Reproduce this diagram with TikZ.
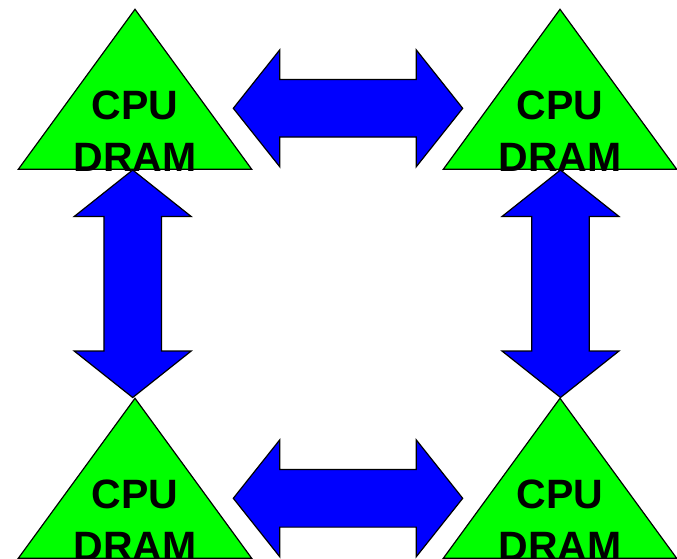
\documentclass[tikz,border=0pt]{standalone}
\usepackage{fontspec}
\setmainfont{Liberation Sans}
\usetikzlibrary{calc}

\definecolor{cpugreen}{RGB}{0,255,0}
\definecolor{linkblue}{RGB}{0,0,255}

% A processing unit: triangle with apex at (#2,#3), named #1
\newcommand\cpuunit[3]{%
  \coordinate (#1-top) at (#2,#3);
  \coordinate (#1-bl)  at ($(#1-top)+(-116.7,160)$);
  \coordinate (#1-br)  at ($(#1-top)+(116.7,160)$);
  \path[unitshape] (#1-top) -- (#1-br) -- (#1-bl) -- cycle;
}
% Labels of a unit
\newcommand\cpulabel[1]{%
  \node[lbl] (#1-cpu)  at ($(#1-top)+(0,110)$) {CPU};
  \node[lbl] (#1-dram) at ($(#1-top)+(0,162)$) {DRAM};
}
% Two-headed block arrow from tip #1 to tip #2
\newcommand\dbllink[2]{%
  \path[link] (#1)
    -- ($(#1)!46.5pt!(#2)!58.5pt!90:(#2)$)
    -- ($(#1)!46.5pt!(#2)!28.8pt!90:(#2)$)
    -- ($(#2)!46.5pt!(#1)!28.8pt!-90:(#1)$)
    -- ($(#2)!46.5pt!(#1)!58.5pt!-90:(#1)$)
    -- (#2)
    -- ($(#2)!46.5pt!(#1)!58.5pt!90:(#1)$)
    -- ($(#2)!46.5pt!(#1)!28.8pt!90:(#1)$)
    -- ($(#1)!46.5pt!(#2)!28.8pt!-90:(#2)$)
    -- ($(#1)!46.5pt!(#2)!58.5pt!-90:(#2)$)
    -- cycle;
}

\begin{document}
\begin{tikzpicture}[x=1pt,y=-1pt,
  unitshape/.style={draw=black,line width=1.2pt,fill=cpugreen,line join=miter},
  link/.style={draw=black,line width=1.2pt,fill=linkblue,line join=miter},
  lbl/.style={font=\fontsize{41}{48}\selectfont\bfseries,anchor=base,inner sep=0pt}]
\clip (0,0) rectangle (677,559);
\fill[white] (0,0) rectangle (677,559);

% the four units
\cpuunit{tl}{135}{9.3}
\cpuunit{tr}{560}{9.3}
\cpuunit{bl}{135}{398.3}
\cpuunit{br}{560}{398.3}

% arrow end points
\coordinate (top-w) at (233.3,108.3);
\coordinate (top-e) at (462.7,108.3);
\coordinate (bot-w) at (233.3,498.3);
\coordinate (bot-e) at (462.7,498.3);
\coordinate (lft-n) at (132.7,170);
\coordinate (lft-s) at (132.7,397.5);
\coordinate (rgt-n) at (560.5,170);
\coordinate (rgt-s) at (560.5,397.5);

% links between units
\dbllink{top-w}{top-e}
\dbllink{bot-w}{bot-e}
\dbllink{lft-n}{lft-s}
\dbllink{rgt-n}{rgt-s}

% labels
\cpulabel{tl}
\cpulabel{tr}
\cpulabel{bl}
\cpulabel{br}
\end{tikzpicture}
\end{document}
